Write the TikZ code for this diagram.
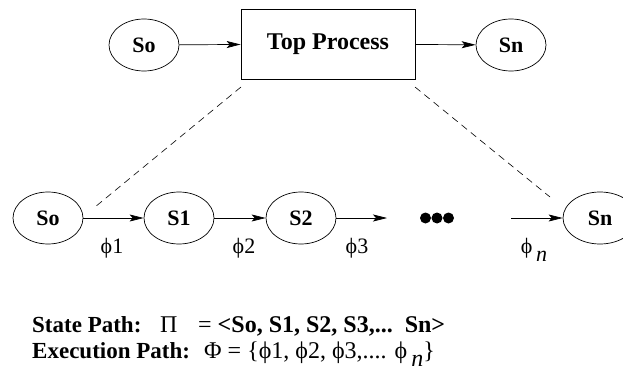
\documentclass[tikz,border=0pt]{standalone}
\usepackage{fontspec}
\setmainfont{Liberation Serif}
\usetikzlibrary{shapes.geometric,arrows.meta}
\begin{document}
\begin{tikzpicture}[x=1pt,y=-1pt,
  state/.style={draw,ellipse,line width=0.7pt,minimum width=70pt,minimum height=52pt,inner sep=0pt,font=\fontsize{22}{26}\selectfont\bfseries},
  procbox/.style={draw,rectangle,line width=0.7pt,minimum width=174pt,minimum height=70pt,inner sep=0pt,font=\fontsize{24}{29}\selectfont\bfseries},
  flow/.style={line width=0.7pt,-{Stealth[length=14pt,width=7pt,inset=3pt]}},
  link/.style={line width=0.6pt,dash pattern=on 7pt off 5pt},
  phil/.style={font=\fontsize{22}{26}\selectfont,inner sep=0pt},
  bold/.style={anchor=base west,inner sep=0pt,font=\fontsize{23}{28}\selectfont\bfseries},
  plain/.style={anchor=base west,inner sep=0pt,font=\fontsize{24}{28}\selectfont}]
\useasboundingbox (0,0) rectangle (623,385);
% top row
\node[state] (tso) at (144,45) {So};
\node[procbox] (top) at (328,44) {Top Process};
\node[state] (tsn) at (511,45) {Sn};
\draw[flow] (tso) -- (top);
\draw[flow] (top) -- (tsn);
% bottom row
\node[state] (bso) at (48,218) {So};
\node[state] (bs1) at (179,218) {S1};
\node[state] (bs2) at (301,218) {S2};
\node[state,minimum width=74pt] (bsn) at (600,218) {Sn};
\coordinate (a3end) at (387,218);
\coordinate (anstart) at (511,218);
\node[inner sep=0pt,minimum width=36pt,minimum height=12pt] (dots) at (437,218) {};
\fill (425.5,218) circle (5.5) (437,218) circle (5.5) (448.5,218) circle (5.5);
\draw[flow] (bso) -- (bs1);
\draw[flow] (bs1) -- (bs2);
\draw[flow] (bs2) -- (a3end);
\draw[flow] (anstart) -- (bsn);
% dashed links
\coordinate (dla) at (241,87);
\coordinate (dlb) at (95,207);
\coordinate (dra) at (415,87);
\coordinate (drb) at (550,197);
\draw[link] (dla) -- (dlb);
\draw[link] (dra) -- (drb);
% phi labels
\node[phil] (p1) at (112,248) {ϕ1};
\node[phil] (p2) at (244,248) {ϕ2};
\node[phil] (p3) at (357,248) {ϕ3};
\node[phil] (pn) at (534,250) {ϕ\,\raisebox{-8pt}{\itshape n}};
% path texts
\node[bold] (sp) at (32,332) {State Path:};
\node[plain] (pi) at (160,332) {Π};
\node[plain] (spv) at (198,332) {= \textbf{<So, S1, S2, S3,...\ \ Sn>}};
\node[bold] (ep) at (32,358) {Execution Path:};
\node[plain] (epv) at (204,358) {Φ = \{ϕ1, ϕ2, ϕ3,.... ϕ\,\raisebox{-8pt}{\itshape n}\}};
\end{tikzpicture}
\end{document}
